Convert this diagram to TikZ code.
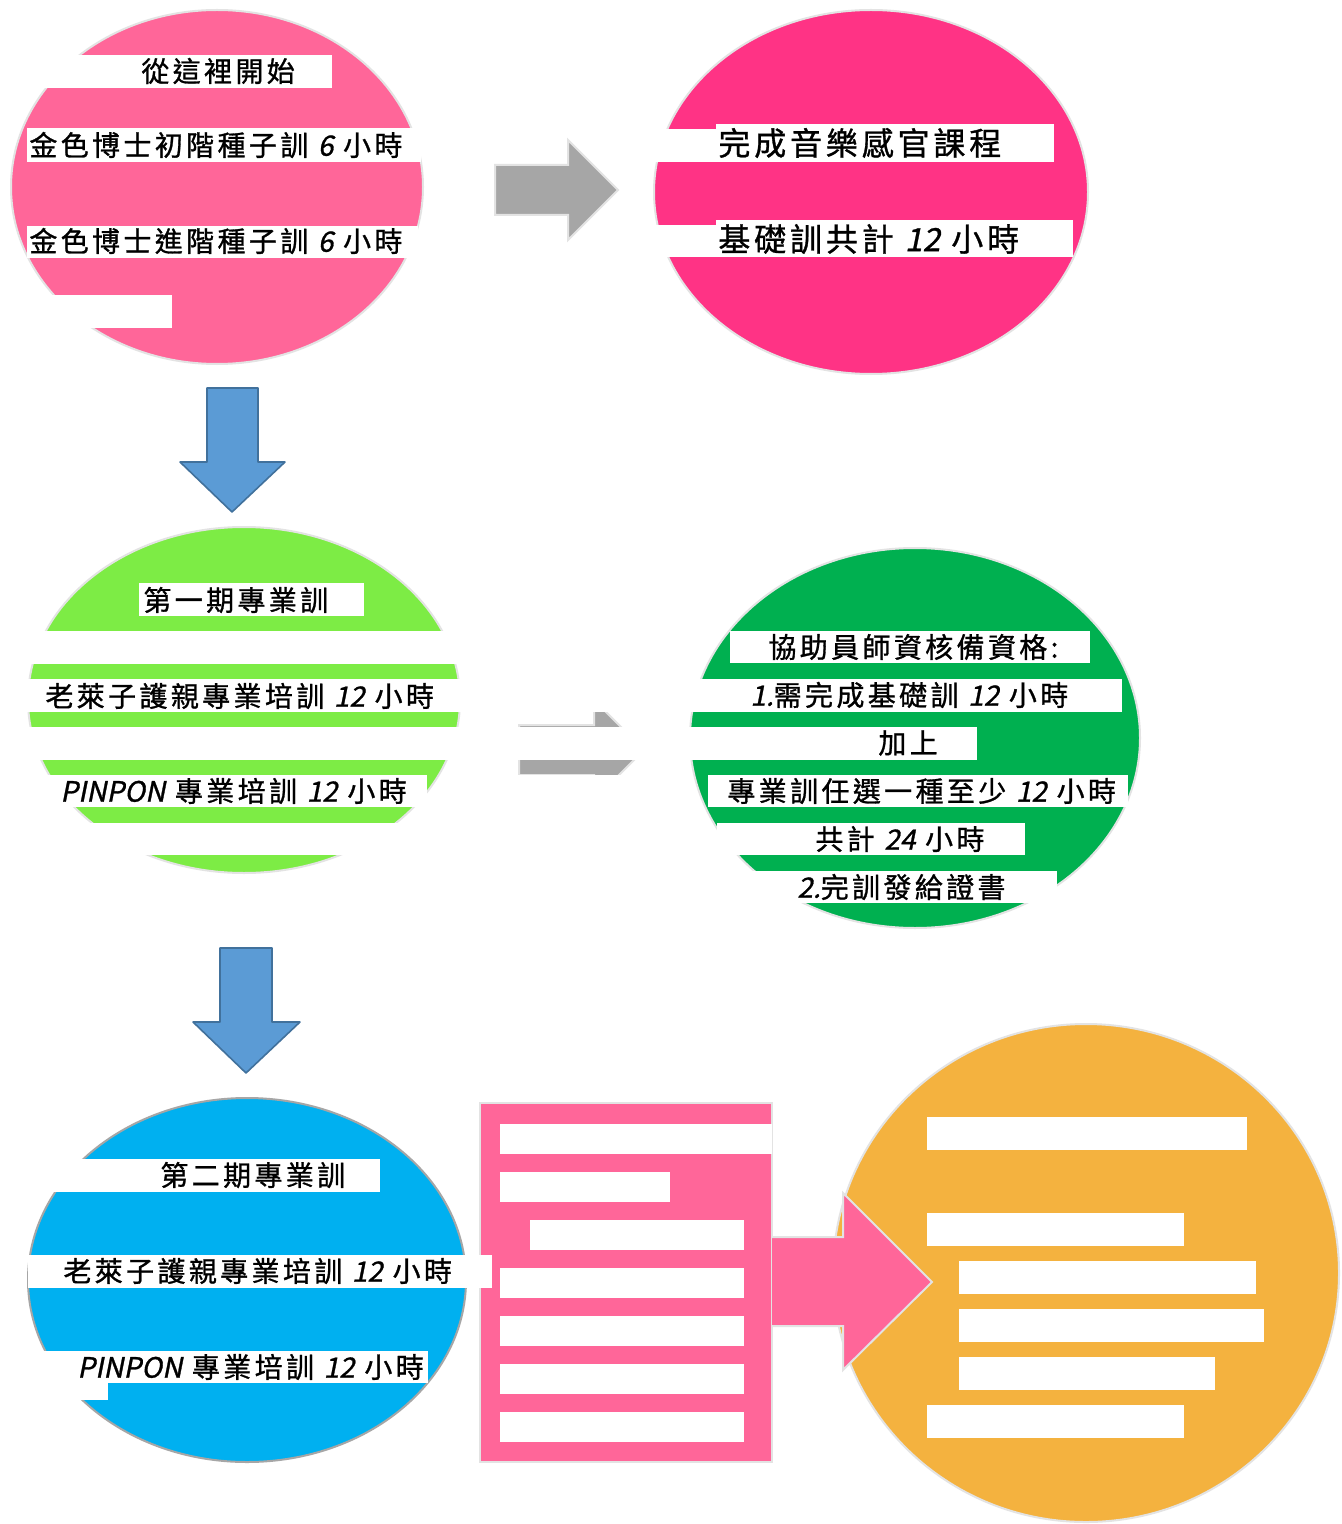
\documentclass[tikz,border=0pt]{standalone}
\usepackage{fontspec}
\newfontfamily\kai[LetterSpace=12,FakeBold=1]{Noto Sans CJK TC}
\newfontfamily\kaisl[FakeSlant=0.2,FakeBold=1]{Noto Sans CJK TC}
\newcommand{\slnum}[1]{{\kaisl #1}}

\definecolor{pinkA}{HTML}{FF6699}
\definecolor{pinkB}{HTML}{FF3385}
\definecolor{greenA}{HTML}{7DEC45}
\definecolor{greenB}{HTML}{00B050}
\definecolor{blueA}{HTML}{00B0F0}
\definecolor{orangeA}{HTML}{F4B23F}
\definecolor{arrowblue}{HTML}{5B9BD5}
\definecolor{arrowedge}{HTML}{41719C}
\definecolor{greyA}{HTML}{A6A6A6}
\definecolor{rim}{HTML}{E3E3E3}

\tikzset{
  blob/.style={draw=rim, line width=1pt},
  hl/.style={fill=white},
  lbl/.style={anchor=west, inner sep=0pt, font=\kai\fontsize{14}{16}\selectfont},
  biglbl/.style={lbl, font=\kai\fontsize{16}{18}\selectfont},
  downarrow/.style={fill=arrowblue, draw=arrowedge, line width=0.8pt, line join=round},
  grayarrow/.style={fill=greyA, draw=rim, line width=1pt}
}

\begin{document}
\begin{tikzpicture}[x=0.5pt, y=-0.5pt]

	\useasboundingbox (0,0) rectangle (1342,1524);
	\fill[white] (0,0) rectangle (1342,1524);

	% Start
	\fill[blob, fill=pinkA] (217,187) ellipse [x radius=206, y radius=177];
	\foreach \xa/\ya/\xb/\yb in {20/55/332/88, 27/128/421/162, 27/226/418/258, 40/295/172/328}
		\fill[hl] (\xa,\ya) rectangle (\xb,\yb);
	\node[lbl] (start) at (141,71) {從這裡開始};
	\node[lbl] (seedA) at (29,145) {金色博士初階種子訓 \slnum{6} 小時};
	\node[lbl] (seedB) at (29,241) {金色博士進階種子訓 \slnum{6} 小時};

	\draw[grayarrow] (495,165) -- (568,165) -- (568,140) -- (618,190) -- (568,240) -- (568,215) -- (495,215) -- cycle;

	% Basic
	\fill[blob, fill=pinkB] (871,192) ellipse [x radius=217, y radius=182];
	\foreach \xa/\ya/\xb/\yb in {640/129/716/162, 716/124/1054/162, 640/225/716/257, 716/220/1073/257}
		\fill[hl] (\xa,\ya) rectangle (\xb,\yb);
	\node[biglbl] (senses) at (718,143) {完成音樂感官課程};
	\node[biglbl] (basic) at (718,239) {基礎訓共計 \slnum{12} 小時};

	\draw[downarrow] (207,388) -- (258,388) -- (258,462) -- (285,462) -- (232,512) -- (180,462) -- (207,462) -- cycle;

	% Phase one
	\fill[blob, fill=greenA] (244,700) ellipse [x radius=216, y radius=173];
	\fill[blob, fill=greenB] (915,738) ellipse [x radius=225, y radius=190];
	\draw[grayarrow] (519,725) -- (594,725) -- (594,700) -- (644,750) -- (594,800) -- (594,775) -- (519,775) -- cycle;
	\foreach \xa/\ya/\xb/\yb in {139/583/364/616, 20/631/470/664, 20/679/700/712, 20/727/977/760,
		20/775/427/807, 480/775/690/807, 20/823/470/855,
		730/631/1090/663, 700/679/1122/712, 708/775/1128/807, 717/823/1025/855, 738/871/1057/903}
		\fill[hl] (\xa,\ya) rectangle (\xb,\yb);
	\node[lbl] (phaseA) at (143,600) {第一期專業訓};
	\node[lbl] (careA) at (45,696) {老萊子護親專業培訓 \slnum{12} 小時};
	\node[lbl] (pinA) at (60,791) {\slnum{PINPON} 專業培訓 \slnum{12} 小時};

	% Qualification
	\node[lbl] (qual) at (768,647) {協助員師資核備資格:};
	\node[lbl] (needA) at (750,695) {\slnum{1.}需完成基礎訓 \slnum{12} 小時};
	\node[lbl] (plus) at (878,743) {加上};
	\node[lbl] (pick) at (727,791) {專業訓任選一種至少 \slnum{12} 小時};
	\node[lbl] (total) at (815,839) {共計 \slnum{24} 小時};
	\node[lbl] (cert) at (797,887) {\slnum{2.}完訓發給證書};

	\draw[downarrow] (220,948) -- (272,948) -- (272,1022) -- (300,1022) -- (246,1073) -- (193,1022) -- (220,1022) -- cycle;

	% Phase two
	\fill[blob, draw=greyA, fill=blueA] (247,1280) ellipse [x radius=219, y radius=182];
	\fill[blob, fill=pinkA] (480,1103) rectangle (772,1462);
	\foreach \ya in {1268,1316,1364,1412}
		\fill[hl] (500,\ya) rectangle (744,\ya+30);
	\foreach \xa/\ya/\xb/\yb in {500/1124/772/1154, 500/1172/670/1202, 530/1220/744/1250,
		40/1159/380/1192, 28/1255/492/1288, 40/1351/428/1383, 40/1383/108/1400}
		\fill[hl] (\xa,\ya) rectangle (\xb,\yb);
	\node[lbl] (phaseB) at (160,1175) {第二期專業訓};
	\node[lbl] (careB) at (63,1271) {老萊子護親專業培訓 \slnum{12} 小時};
	\node[lbl] (pinB) at (77,1367) {\slnum{PINPON} 專業培訓 \slnum{12} 小時};

	% Goal
	\fill[blob, fill=orangeA] (1086,1273) ellipse [x radius=253, y radius=249];
	\fill[pinkA] (772,1237) -- (843,1237) -- (843,1193) -- (932,1282) -- (843,1370) -- (843,1326) -- (772,1326) -- cycle;
	\draw[rim, line width=1pt] (772,1237) -- (843,1237) -- (843,1193) -- (932,1282) -- (843,1370) -- (843,1326) -- (772,1326);
	\foreach \xa/\ya/\xb/\yb in {927/1117/1247/1150, 927/1213/1184/1246, 959/1261/1256/1294,
		959/1309/1264/1342, 959/1357/1215/1390, 927/1405/1184/1438}
		\fill[hl] (\xa,\ya) rectangle (\xb,\yb);

\end{tikzpicture}
\end{document}
